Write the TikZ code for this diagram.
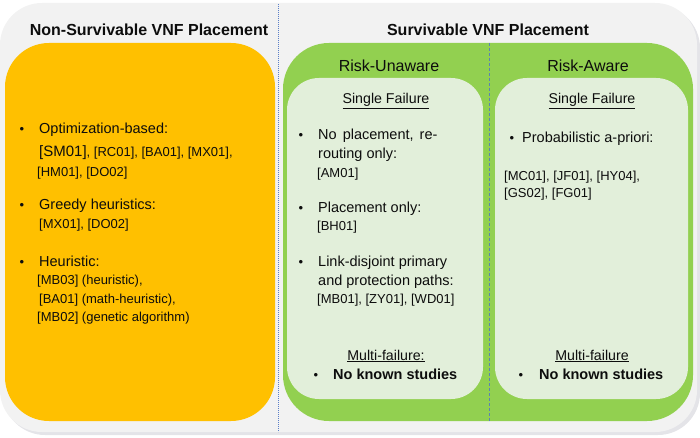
\documentclass[tikz,border=0pt]{standalone}
\usepackage{fontspec}
\setmainfont{Liberation Sans}
\definecolor{bggray}{HTML}{F2F2F2}
\definecolor{shadowgray}{HTML}{E4E4E8}
\definecolor{vnfyellow}{HTML}{FFC000}
\definecolor{vnfgreen}{HTML}{92D050}
\definecolor{palegreen}{HTML}{E2EFDA}
\definecolor{dotblue}{HTML}{5B7FC8}
\definecolor{dashblue}{HTML}{5A85B0}
\definecolor{ink}{HTML}{0D0D0D}
\begin{document}
\begin{tikzpicture}[x=1pt,y=-1pt,
  every node/.style={inner sep=0pt,text=ink},
  body/.style={anchor=base west,font=\fontsize{14.5}{17}\selectfont},
  refs/.style={anchor=base west,font=\fontsize{13}{15}\selectfont},
  bul/.style={anchor=base,font=\fontsize{13}{15}\selectfont},
  title/.style={anchor=base,font=\fontsize{16}{19}\selectfont\bfseries},
  head/.style={anchor=base,font=\fontsize{16}{19}\selectfont},
  sub/.style={anchor=base,font=\fontsize{14.2}{17}\selectfont},
  bold/.style={anchor=base west,font=\fontsize{14.5}{17}\selectfont\bfseries}]
\useasboundingbox (0,0) rectangle (700,438);
% background panel with faint shadow
\fill[shadowgray,rounded corners=42] (3,6) rectangle (700,435);
\fill[bggray,rounded corners=42] (0,3) rectangle (697,432);
% dotted separator
\coordinate (dtop) at (278,4);
\coordinate (dbot) at (278,432);
\draw[dotblue,line width=0.9pt,dash pattern=on 0.9pt off 1.1pt] (dtop) -- (dbot);
% boxes
\fill[vnfyellow,rounded corners=44] (5,43) rectangle (275,421);
\fill[vnfgreen,rounded corners=46] (283,43) rectangle (693,421);
\fill[palegreen,rounded corners=32] (287,78) rectangle (483,399);
\fill[palegreen,rounded corners=32] (495,78) rectangle (688,399);
\coordinate (ntop) at (489,43);
\coordinate (nbot) at (489,421);
\draw[dashblue,line width=1pt,dash pattern=on 3pt off 2pt] (ntop) -- (nbot);
% titles
\node[title] (t1) at (149,36) {Non-Survivable VNF Placement};
\node[title] (t2) at (488,36) {Survivable VNF Placement};
\node[head] (ru) at (389,72) {Risk-Unaware};
\node[head] (ra) at (588,72) {Risk-Aware};
\node[sub] (sf1) at (386,104) {\underline{Single Failure}};
\node[sub] (sf2) at (592,104) {\underline{Single Failure}};
% left column
\node[bul] (b1) at (22,134) {•};
\node[body] (l1) at (39,134) {Optimization-based:};
\node[refs] (l2) at (39,157) {{\fontsize{15}{17}\selectfont[SM01]}, [RC01], [BA01], [MX01],};
\node[refs] (l3) at (37,177) {[HM01], [DO02]};
\node[bul] (b2) at (22,210) {•};
\node[body] (l4) at (39,210) {Greedy heuristics:};
\node[refs] (l5) at (39,228) {[MX01], [DO02]};
\node[bul] (b3) at (22,266) {•};
\node[body] (l6) at (39,266) {Heuristic:};
\node[refs] (l7) at (37,284) {[MB03] (heuristic),};
\node[refs] (l8) at (39,303) {[BA01] (math-heuristic),};
\node[refs] (l9) at (37,321) {[MB02] (genetic algorithm)};
% middle column
\node[bul] (b4) at (301,140) {•};
\node[body] (m1) at (318,140) {No\hspace{2pt} placement,\hspace{2pt} re-};
\node[body] (m2) at (318,159) {routing only:};
\node[refs] (m3) at (317,177.5) {[AM01]};
\node[bul] (b5) at (301,212) {•};
\node[body] (m4) at (318,212) {Placement only:};
\node[refs] (m5) at (317,230.5) {[BH01]};
\node[bul] (b6) at (301,266) {•};
\node[body] (m6) at (318,266) {Link-disjoint primary};
\node[body] (m7) at (318,285) {and protection paths:};
\node[refs] (m8) at (317,303.5) {[MB01], [ZY01], [WD01]};
\node[sub] (mf1) at (386,360) {\underline{Multi-failure:}};
\node[bul] (b7) at (316,379) {•};
\node[bold] (nk1) at (333,379) {No known studies};
% right column
\node[bul] (b8) at (512,143) {•};
\node[body] (r1) at (522,143) {Probabilistic a-priori:};
\node[refs] (r2) at (504,180.5) {[MC01], [JF01], [HY04],};
\node[refs] (r3) at (504,197.5) {[GS02], [FG01]};
\node[sub] (mf2) at (592,360) {\underline{Multi-failure}};
\node[bul] (b9) at (521,379) {•};
\node[bold] (nk2) at (539,379) {No known studies};
\end{tikzpicture}
\end{document}
